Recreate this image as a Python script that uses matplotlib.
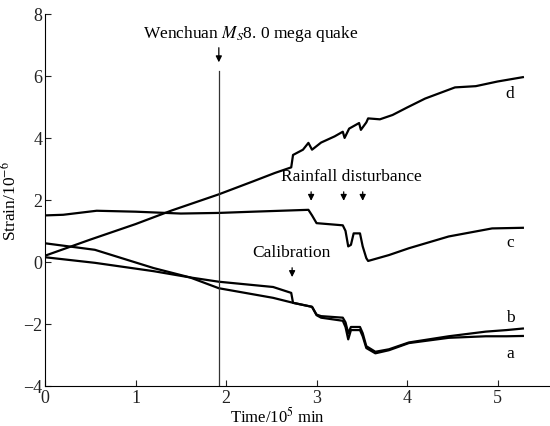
import matplotlib
matplotlib.use("Agg")
import matplotlib.pyplot as plt

plt.rcParams['font.family'] = 'Liberation Serif'
plt.rcParams['mathtext.fontset'] = 'stix'

# curve d
d_x = [0, 0.5, 1.0, 1.4, 1.92, 2.3, 2.54, 2.72, 2.74, 2.85, 2.91, 2.95, 3.05, 3.2, 3.29, 3.31,
       3.36, 3.47, 3.49, 3.55, 3.57, 3.7, 3.84, 4.0, 4.2, 4.53, 4.76, 5.0, 5.28]
d_y = [0.2, 0.72, 1.22, 1.66, 2.18, 2.6, 2.87, 3.05, 3.45, 3.62, 3.84, 3.62, 3.85, 4.05, 4.2, 4.0,
       4.3, 4.48, 4.26, 4.5, 4.63, 4.6, 4.74, 4.98, 5.27, 5.63, 5.67, 5.82, 5.96]

# curve c
c_x = [0, 0.2, 0.57, 1.0, 1.5, 1.92, 2.3, 2.91, 2.95, 3.0, 3.29, 3.32, 3.35, 3.38, 3.41,
       3.48, 3.51, 3.55, 3.57, 3.8, 4.02, 4.46, 4.94, 5.28]
c_y = [1.5, 1.52, 1.65, 1.62, 1.56, 1.58, 1.62, 1.68, 1.5, 1.25, 1.18, 1.0, 0.5, 0.55, 0.92,
       0.92, 0.5, 0.12, 0.03, 0.22, 0.44, 0.82, 1.08, 1.1]

# curve a
a_x = [0, 0.55, 1.2, 1.6, 1.92, 2.52, 2.74, 2.95, 3.0, 3.05, 3.29, 3.32, 3.35, 3.38,
       3.48, 3.51, 3.55, 3.65, 3.8, 4.02, 4.46, 4.87, 5.1, 5.28]
a_y = [0.6, 0.39, -0.2, -0.5, -0.85, -1.16, -1.32, -1.45, -1.72, -1.8, -1.9, -2.1, -2.5, -2.2,
       -2.2, -2.4, -2.78, -2.95, -2.85, -2.62, -2.45, -2.4, -2.4, -2.39]

# curve b
b_x = [0, 0.55, 1.2, 1.6, 1.92, 2.52, 2.72, 2.74, 2.95, 3.0, 3.05, 3.29, 3.32, 3.35, 3.38,
       3.48, 3.51, 3.55, 3.65, 3.8, 4.02, 4.46, 4.87, 5.1, 5.28]
b_y = [0.15, -0.03, -0.3, -0.5, -0.64, -0.81, -1.0, -1.32, -1.45, -1.7, -1.75, -1.8, -1.95, -2.3, -2.1,
       -2.1, -2.3, -2.72, -2.9, -2.82, -2.6, -2.4, -2.25, -2.2, -2.15]

quake_x = 1.92
rain_x = [2.94, 3.30, 3.51]
calib_x = 2.73

fig = plt.figure(figsize=(5.5, 4.27), dpi=100)
ax = fig.add_axes([0.082, 0.094, 0.918, 0.871])

for xs, ys in [(d_x, d_y), (c_x, c_y), (a_x, a_y), (b_x, b_y)]:
    ax.plot(xs, ys, color='black', lw=1.6)

ax.plot([quake_x, quake_x], [-4, 6.15], color='#333333', lw=0.9)

ax.set_xlim(0, 5.58)
ax.set_ylim(-4, 8)
ax.set_xticks([0, 1, 2, 3, 4, 5])
ax.set_yticks([-4, -2, 0, 2, 4, 6, 8])
ax.set_yticklabels(['\u22124', '\u22122', '0', '2', '4', '6', '8'])
ax.tick_params(direction='in', labelsize=13, length=4, colors='#222222', pad=2)
ax.spines['top'].set_visible(False)
ax.spines['right'].set_visible(False)
ax.set_xlabel('Time/10$^5$ min', fontsize=12)
ax.set_ylabel('Strain/10$^{-6}$', fontsize=12.5)
ax.xaxis.set_label_coords(0.46, -0.053)
ax.yaxis.set_label_coords(-0.05, 0.5)

arrow = dict(arrowstyle='-|>', color='black', lw=0.9, mutation_scale=9)
ax.annotate('', xy=(quake_x, 6.35), xytext=(quake_x, 7.0), arrowprops=arrow)
ax.text(2.27, 7.39, 'Wenchuan $M_S$8. 0 mega quake', fontsize=12.5, ha='center', va='center')

ax.text(3.38, 2.77, 'Rainfall disturbance', fontsize=12.5, ha='center', va='center')
for rx in rain_x:
    ax.annotate('', xy=(rx, 1.88), xytext=(rx, 2.35), arrowprops=arrow)

ax.text(2.72, 0.32, 'Calibration', fontsize=12.5, ha='center', va='center')
ax.annotate('', xy=(calib_x, -0.58), xytext=(calib_x, -0.1), arrowprops=arrow)

ax.text(5.14, 5.45, 'd', fontsize=12.5, ha='center', va='center')
ax.text(5.14, 0.65, 'c', fontsize=12.5, ha='center', va='center')
ax.text(5.14, -1.77, 'b', fontsize=12.5, ha='center', va='center')
ax.text(5.14, -2.94, 'a', fontsize=12.5, ha='center', va='center')

fig.savefig('out.png', dpi=100)
